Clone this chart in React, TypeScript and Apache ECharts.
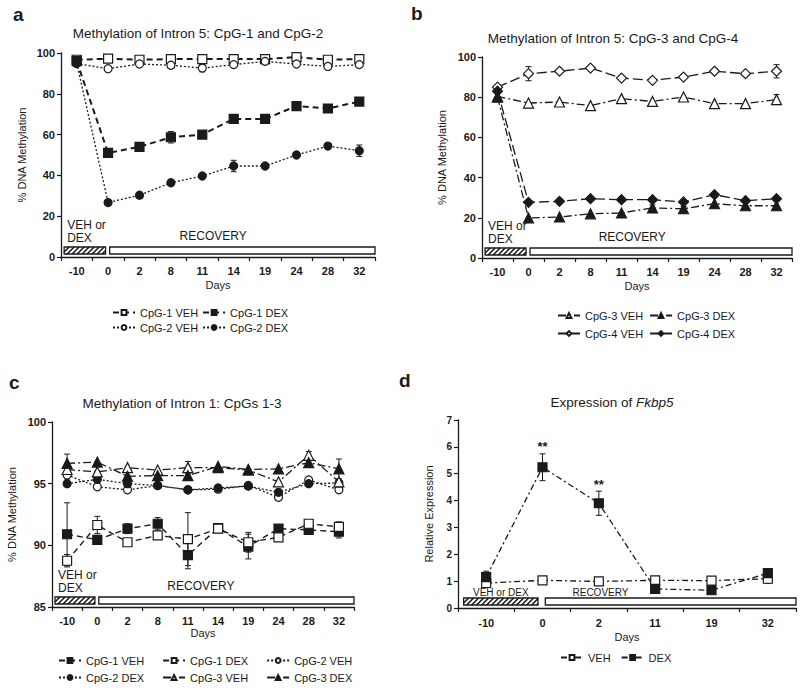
import React, { useEffect, useRef } from "react";
import * as echarts from "echarts";

// ---------- DATA ----------
const daysABC = ["-10", "0", "2", "8", "11", "14", "19", "24", "28", "32"];
const daysD = ["-10", "0", "2", "11", "19", "32"];

// Panel a: Intron 5 CpG-1 / CpG-2
const aCpg1Veh = [96.7, 97.2, 96.7, 97.0, 97.0, 97.0, 97.0, 98.0, 96.7, 97.0];
const aCpg1Dex = [96.0, 51.0, 54.0, 58.7, 60.0, 67.7, 67.7, 74.0, 72.8, 76.2];
const aCpg2Veh = [94.8, 92.3, 94.6, 94.0, 92.6, 94.3, 95.9, 94.6, 93.4, 94.3];
const aCpg2Dex = [95.0, 26.7, 30.3, 36.4, 39.7, 44.6, 44.6, 50.0, 54.4, 52.1];
const aCpg1VehErr = [0, 0, 0, 0, 0, 0, 0, 0, 0, 0];
const aCpg1DexErr = [0, 1.5, 0, 2.8, 0, 1.0, 0, 0, 0, 1.5];
const aCpg2VehErr = [0, 0, 0, 0, 1.8, 0, 0, 0, 0, 0];
const aCpg2DexErr = [0, 0, 0, 0, 0, 2.8, 0, 0, 1.0, 2.8];

// Panel b: Intron 5 CpG-3 / CpG-4
const bCpg3Veh = [80.4, 77.1, 77.6, 75.8, 79.3, 77.9, 80.1, 76.8, 76.8, 78.8];
const bCpg3Dex = [80.0, 19.9, 20.4, 22.0, 22.4, 24.9, 24.5, 27.0, 26.0, 26.0];
const bCpg4Veh = [85.0, 91.7, 92.9, 94.5, 89.5, 88.4, 90.0, 92.9, 91.7, 92.9];
const bCpg4Dex = [83.0, 27.7, 28.2, 29.5, 29.0, 29.0, 27.9, 31.5, 28.5, 29.5];
const bCpg3VehErr = [0, 0, 0, 0, 0, 0, 0, 0, 0, 2.5];
const bCpg3DexErr = [0, 0, 0, 0, 0, 1.5, 1.2, 0, 0, 0];
const bCpg4VehErr = [0, 3.5, 0, 0, 0, 0, 0, 0, 0, 3.3];
const bCpg4DexErr = [0, 0, 0, 0, 0, 0, 0, 0, 0, 0];

// Panel c: Intron 1 CpGs 1-3
const cCpg1Veh = [90.9, 90.45, 91.35, 91.75, 89.2, 91.4, 89.9, 91.35, 91.25, 91.1];
const cCpg1Dex = [88.75, 91.65, 90.25, 90.8, 90.5, 91.35, 90.25, 90.65, 91.75, 91.5];
const cCpg2Veh = [95.7, 94.75, 94.5, 94.85, 94.5, 94.55, 94.85, 93.9, 95.3, 94.5];
const cCpg2Dex = [95.0, 95.35, 95.0, 94.85, 94.5, 94.65, 94.8, 94.3, 95.0, 95.05];
const cCpg3Veh = [96.15, 95.95, 96.3, 96.1, 96.3, 96.3, 96.1, 95.15, 97.3, 95.15];
const cCpg3Dex = [96.65, 96.75, 95.6, 95.65, 95.65, 96.4, 96.15, 96.2, 96.7, 96.2];
const cCpg1VehErr = [2.55, 0, 0.4, 0.5, 1.1, 0, 1.0, 0, 0, 0.5];
const cCpg1DexErr = [0.5, 0.7, 0, 0, 2.15, 0, 0.8, 0, 0, 0.4];
const cCpg2VehErr = [0.4, 0, 0, 0, 0, 0, 0, 0, 0, 0];
const cCpg2DexErr = [0, 0, 0, 0, 0, 0, 0, 0, 0, 0];
const cCpg3VehErr = [0, 0, 0, 0, 0.5, 0, 0, 0, 0.3, 0];
const cCpg3DexErr = [0.75, 0, 0, 0, 0, 0, 0, 0, 0, 0.8];

// Panel d: Fkbp5 expression
const dVeh = [0.93, 1.03, 0.99, 1.03, 1.02, 1.09];
const dDex = [1.15, 5.24, 3.9, 0.71, 0.66, 1.3];
const dVehErr = [0.1, 0, 0, 0, 0, 0.18];
const dDexErr = [0.22, 0.5, 0.45, 0, 0, 0.1];
const dSignificant = ["0", "2"];

// ---------- STYLE ----------
const FONT = "'Liberation Sans', Arial, sans-serif";
const INK = "#1a1a1a";

const grids = [
  { left: 61, top: 53, width: 314, height: 204 },
  { left: 482, top: 57, width: 310, height: 201 },
  { left: 52, top: 422, width: 302, height: 185 },
  { left: 458, top: 420, width: 338, height: 188 },
];

function lineSeries(name: string, data: number[], gi: number, symbol: string, filled: boolean, dash: any, width: number, size: number) {
  return {
    type: "line",
    name,
    xAxisIndex: gi,
    yAxisIndex: gi,
    data,
    symbol,
    symbolSize: size,
    showAllSymbol: true,
    z: 4,
    itemStyle: { color: filled ? INK : "#ffffff", borderColor: INK, borderWidth: 1.2, opacity: 1 },
    lineStyle: { color: INK, width, type: dash },
    emphasis: { disabled: true },
  };
}

function errSeries(gi: number, pairs: [number[], number[]][]) {
  const data: number[][] = [];
  pairs.forEach(([vals, errs]) => {
    vals.forEach((v, i) => {
      if (errs[i] > 0) data.push([i, v, errs[i]]);
    });
  });
  return {
    type: "custom",
    xAxisIndex: gi,
    yAxisIndex: gi,
    z: 3,
    silent: true,
    encode: { x: 0, y: 1 },
    data,
    renderItem: (params: any, api: any) => {
      const x = api.value(0), m = api.value(1), s = api.value(2);
      const t = api.coord([x, m + s]);
      const b = api.coord([x, m - s]);
      const st = { stroke: INK, lineWidth: 1 };
      const w = 3;
      return {
        type: "group",
        children: [
          { type: "line", shape: { x1: t[0], y1: t[1], x2: b[0], y2: b[1] }, style: st },
          { type: "line", shape: { x1: t[0] - w, y1: t[1], x2: t[0] + w, y2: t[1] }, style: st },
          { type: "line", shape: { x1: b[0] - w, y1: b[1], x2: b[0] + w, y2: b[1] }, style: st },
        ],
      };
    },
  };
}

function phaseSeries(gi: number, n: number, ymin: number, compact: boolean, recFrac: number) {
  return {
    type: "custom",
    xAxisIndex: gi,
    yAxisIndex: gi,
    z: 2,
    silent: true,
    data: [[0, ymin]],
    renderItem: (params: any, api: any) => {
      const base = api.coord([0, ymin]);
      const band = api.size([1, 0])[0];
      const c0 = base[0];
      const yb = base[1] - 3;
      const h = 7;
      const yt = yb - h;
      const hx1 = c0 - 0.4 * band, hx2 = c0 + 0.92 * band;
      const ox1 = c0 + 1.05 * band, ox2 = c0 + (n - 0.5) * band;
      const children: any[] = [];
      for (let k = hx1 - h; k < hx2; k += 5) {
        let xs = k, ys = yb, xe = k + h, ye = yt;
        if (xs < hx1) { ys = yb - (hx1 - xs); xs = hx1; }
        if (xe > hx2) { ye = yb - (hx2 - k); xe = hx2; }
        if (xe > xs) children.push({ type: "line", shape: { x1: xs, y1: ys, x2: xe, y2: ye }, style: { stroke: INK, lineWidth: 1.6 } });
      }
      children.push({ type: "rect", shape: { x: hx1, y: yt, width: hx2 - hx1, height: h }, style: { fill: "none", stroke: INK, lineWidth: 1.3 } });
      children.push({ type: "rect", shape: { x: ox1, y: yt, width: ox2 - ox1, height: h }, style: { fill: "#ffffff", stroke: INK, lineWidth: 1.3 } });
      if (compact) {
        children.push({ type: "text", x: (hx1 + hx2) / 2, y: yt - 6, style: { text: "VEH or DEX", fontSize: 10, fontFamily: FONT, fill: INK, align: "center", verticalAlign: "middle" } });
        children.push({ type: "text", x: ox1 + recFrac * (ox2 - ox1), y: yt - 6, style: { text: "RECOVERY", fontSize: 10, fontFamily: FONT, fill: INK, align: "center", verticalAlign: "middle" } });
      } else {
        children.push({ type: "text", x: hx1 + 3, y: yt - 3, style: { text: "VEH or\nDEX", fontSize: 12, lineHeight: 13, fontFamily: FONT, fill: INK, align: "left", verticalAlign: "bottom" } });
        children.push({ type: "text", x: ox1 + recFrac * (ox2 - ox1), y: yt - 11, style: { text: "RECOVERY", fontSize: 12, fontFamily: FONT, fill: INK, align: "center", verticalAlign: "middle" } });
      }
      return { type: "group", children };
    },
  };
}

function starSeries(gi: number) {
  const data: number[][] = dSignificant.map((d) => {
    const i = daysD.indexOf(d);
    return [i, dDex[i] + dDexErr[i]];
  });
  return {
    type: "custom",
    xAxisIndex: gi,
    yAxisIndex: gi,
    z: 5,
    silent: true,
    data,
    renderItem: (params: any, api: any) => {
      const p = api.coord([api.value(0), api.value(1)]);
      return { type: "text", x: p[0], y: p[1] - 7, style: { text: "**", fontSize: 13, fontWeight: "bold", fontFamily: FONT, fill: INK, align: "center", verticalAlign: "middle" } };
    },
  };
}

function xAxis(gi: number, data: string[], nameGap: number, margin: number) {
  return {
    type: "category",
    gridIndex: gi,
    data,
    boundaryGap: true,
    axisLine: { lineStyle: { color: INK, width: 1.3 } },
    axisTick: { show: true, length: 4, lineStyle: { color: INK, width: 1.2 } },
    axisLabel: { fontSize: 11, fontWeight: "bold", color: INK, fontFamily: FONT, margin },
    splitLine: { show: false },
    name: "Days",
    nameLocation: "middle",
    nameGap,
    nameTextStyle: { fontSize: 11, color: INK, fontFamily: FONT },
  };
}

function yAxis(gi: number, min: number, max: number, interval: number, name: string, nameGap: number, fs: number) {
  return {
    type: "value",
    gridIndex: gi,
    min,
    max,
    interval,
    axisLine: { show: true, lineStyle: { color: INK, width: 1.3 } },
    axisTick: { show: true, length: 4, lineStyle: { color: INK, width: 1.2 } },
    axisLabel: { fontSize: fs, fontWeight: "bold", color: INK, fontFamily: FONT, margin: 6 },
    splitLine: { show: false },
    name,
    nameLocation: "middle",
    nameGap,
    nameRotate: 90,
    nameTextStyle: { fontSize: 11, color: INK, fontFamily: FONT },
  };
}

const legendBase = {
  orient: "horizontal",
  itemWidth: 22,
  itemHeight: 6,
  itemGap: 6,
  padding: 0,
  selectedMode: false,
  textStyle: { fontSize: 11, color: INK, fontFamily: FONT },
  formatter: (n: string) => n.slice(2),
};

function headText(text: string, x: number, y: number, size: number, bold: boolean, align: string, rich?: any) {
  return {
    type: "text",
    x,
    y,
    silent: true,
    style: { text, fontSize: size, fontWeight: bold ? "bold" : "normal", fontFamily: FONT, fill: INK, align, verticalAlign: "middle", rich },
  };
}

export default function App() {
  const ref = useRef<HTMLDivElement>(null);
  useEffect(() => {
    if (!ref.current) return;
    const chart = echarts.init(ref.current, null, { renderer: "svg" });
    const series: any[] = [
      // a
      lineSeries("a:CpG-1 VEH", aCpg1Veh, 0, "rect", false, [6, 4], 2, 9),
      lineSeries("a:CpG-1 DEX", aCpg1Dex, 0, "rect", true, [6, 4], 2, 9),
      lineSeries("a:CpG-2 VEH", aCpg2Veh, 0, "circle", false, [2, 2], 1.3, 8),
      lineSeries("a:CpG-2 DEX", aCpg2Dex, 0, "circle", true, [2, 2], 1.3, 8),
      errSeries(0, [[aCpg1Veh, aCpg1VehErr], [aCpg1Dex, aCpg1DexErr], [aCpg2Veh, aCpg2VehErr], [aCpg2Dex, aCpg2DexErr]]),
      phaseSeries(0, daysABC.length, 0, false, 0.39),
      // b
      lineSeries("b:CpG-3 VEH", bCpg3Veh, 1, "triangle", false, [8, 3, 2, 3], 1.3, 10),
      lineSeries("b:CpG-3 DEX", bCpg3Dex, 1, "triangle", true, [8, 3, 2, 3], 1.3, 10),
      lineSeries("b:CpG-4 VEH", bCpg4Veh, 1, "diamond", false, [10, 4], 1.3, 10),
      lineSeries("b:CpG-4 DEX", bCpg4Dex, 1, "diamond", true, [10, 4], 1.3, 10),
      errSeries(1, [[bCpg3Veh, bCpg3VehErr], [bCpg3Dex, bCpg3DexErr], [bCpg4Veh, bCpg4VehErr], [bCpg4Dex, bCpg4DexErr]]),
      phaseSeries(1, daysABC.length, 0, false, 0.39),
      // c
      lineSeries("c:CpG-1 VEH", cCpg1Veh, 2, "rect", true, [6, 4], 1.4, 9),
      lineSeries("c:CpG-1 DEX", cCpg1Dex, 2, "rect", false, [6, 4], 1.4, 9),
      lineSeries("c:CpG-2 VEH", cCpg2Veh, 2, "circle", false, [2, 2], 1.3, 8),
      lineSeries("c:CpG-2 DEX", cCpg2Dex, 2, "circle", true, [2, 2], 1.3, 8),
      lineSeries("c:CpG-3 VEH", cCpg3Veh, 2, "triangle", false, [8, 3, 2, 3], 1.3, 10),
      lineSeries("c:CpG-3 DEX", cCpg3Dex, 2, "triangle", true, [8, 3, 2, 3], 1.3, 10),
      errSeries(2, [[cCpg1Veh, cCpg1VehErr], [cCpg1Dex, cCpg1DexErr], [cCpg2Veh, cCpg2VehErr], [cCpg2Dex, cCpg2DexErr], [cCpg3Veh, cCpg3VehErr], [cCpg3Dex, cCpg3DexErr]]),
      phaseSeries(2, daysABC.length, 85, false, 0.4),
      // d
      lineSeries("d:VEH", dVeh, 3, "rect", false, [6, 3, 2, 3], 1.3, 9),
      lineSeries("d:DEX", dDex, 3, "rect", true, [6, 3, 2, 3], 1.3, 9),
      errSeries(3, [[dVeh, dVehErr], [dDex, dDexErr]]),
      phaseSeries(3, daysD.length, 0, true, 0.22),
      starSeries(3),
    ];

    chart.setOption({
      animation: false,
      textStyle: { fontFamily: FONT },
      grid: grids,
      xAxis: [
        xAxis(0, daysABC, 22, 8),
        xAxis(1, daysABC, 22, 8),
        xAxis(2, daysABC, 20, 8),
        xAxis(3, daysD, 23, 9),
      ],
      yAxis: [
        yAxis(0, 0, 100, 20, "% DNA Methylation", 34, 11),
        yAxis(1, 0, 100, 20, "% DNA Methylation", 35, 11),
        yAxis(2, 85, 100, 5, "% DNA Methylation", 35, 11),
        yAxis(3, 0, 7, 1, "Relative Expression", 24, 10),
      ],
      legend: [
        { ...legendBase, itemGap: 4, data: ["a:CpG-1 VEH", "a:CpG-1 DEX"], left: 112, top: 307 },
        { ...legendBase, itemGap: 4, data: ["a:CpG-2 VEH", "a:CpG-2 DEX"], left: 112, top: 322 },
        { ...legendBase, data: ["b:CpG-3 VEH", "b:CpG-3 DEX"], left: 557, top: 310 },
        { ...legendBase, data: ["b:CpG-4 VEH", "b:CpG-4 DEX"], left: 557, top: 328 },
        { ...legendBase, itemGap: 18, data: ["c:CpG-1 VEH", "c:CpG-1 DEX", "c:CpG-2 VEH"], left: 58, top: 655 },
        { ...legendBase, itemGap: 18, data: ["c:CpG-2 DEX", "c:CpG-3 VEH", "c:CpG-3 DEX"], left: 58, top: 672 },
        { ...legendBase, itemGap: 10, data: ["d:VEH", "d:DEX"], left: 560, top: 652 },
      ],
      graphic: [
        headText("a", 13, 14, 19, true, "left"),
        headText("b", 411, 13, 19, true, "left"),
        headText("c", 9, 382, 19, true, "left"),
        headText("d", 399, 380, 19, true, "left"),
        headText("Methylation of Intron 5: CpG-1 and CpG-2", 198, 33, 13.5, false, "center"),
        headText("Methylation of Intron 5: CpG-3 and CpG-4", 613, 38, 13.5, false, "center"),
        headText("Methylation of Intron 1: CpGs 1-3", 182, 403, 13.5, false, "center"),
        headText("Expression of {i|Fkbp5}", 612, 402, 13.5, false, "center", { i: { fontStyle: "italic", fontSize: 13.5, fontFamily: FONT, fill: INK } }),
      ],
      series,
    });
    return () => chart.dispose();
  }, []);
  return <div ref={ref} style={{ position: "fixed", left: 0, top: 0, width: 800, height: 691, background: "#ffffff" }} />;
}
